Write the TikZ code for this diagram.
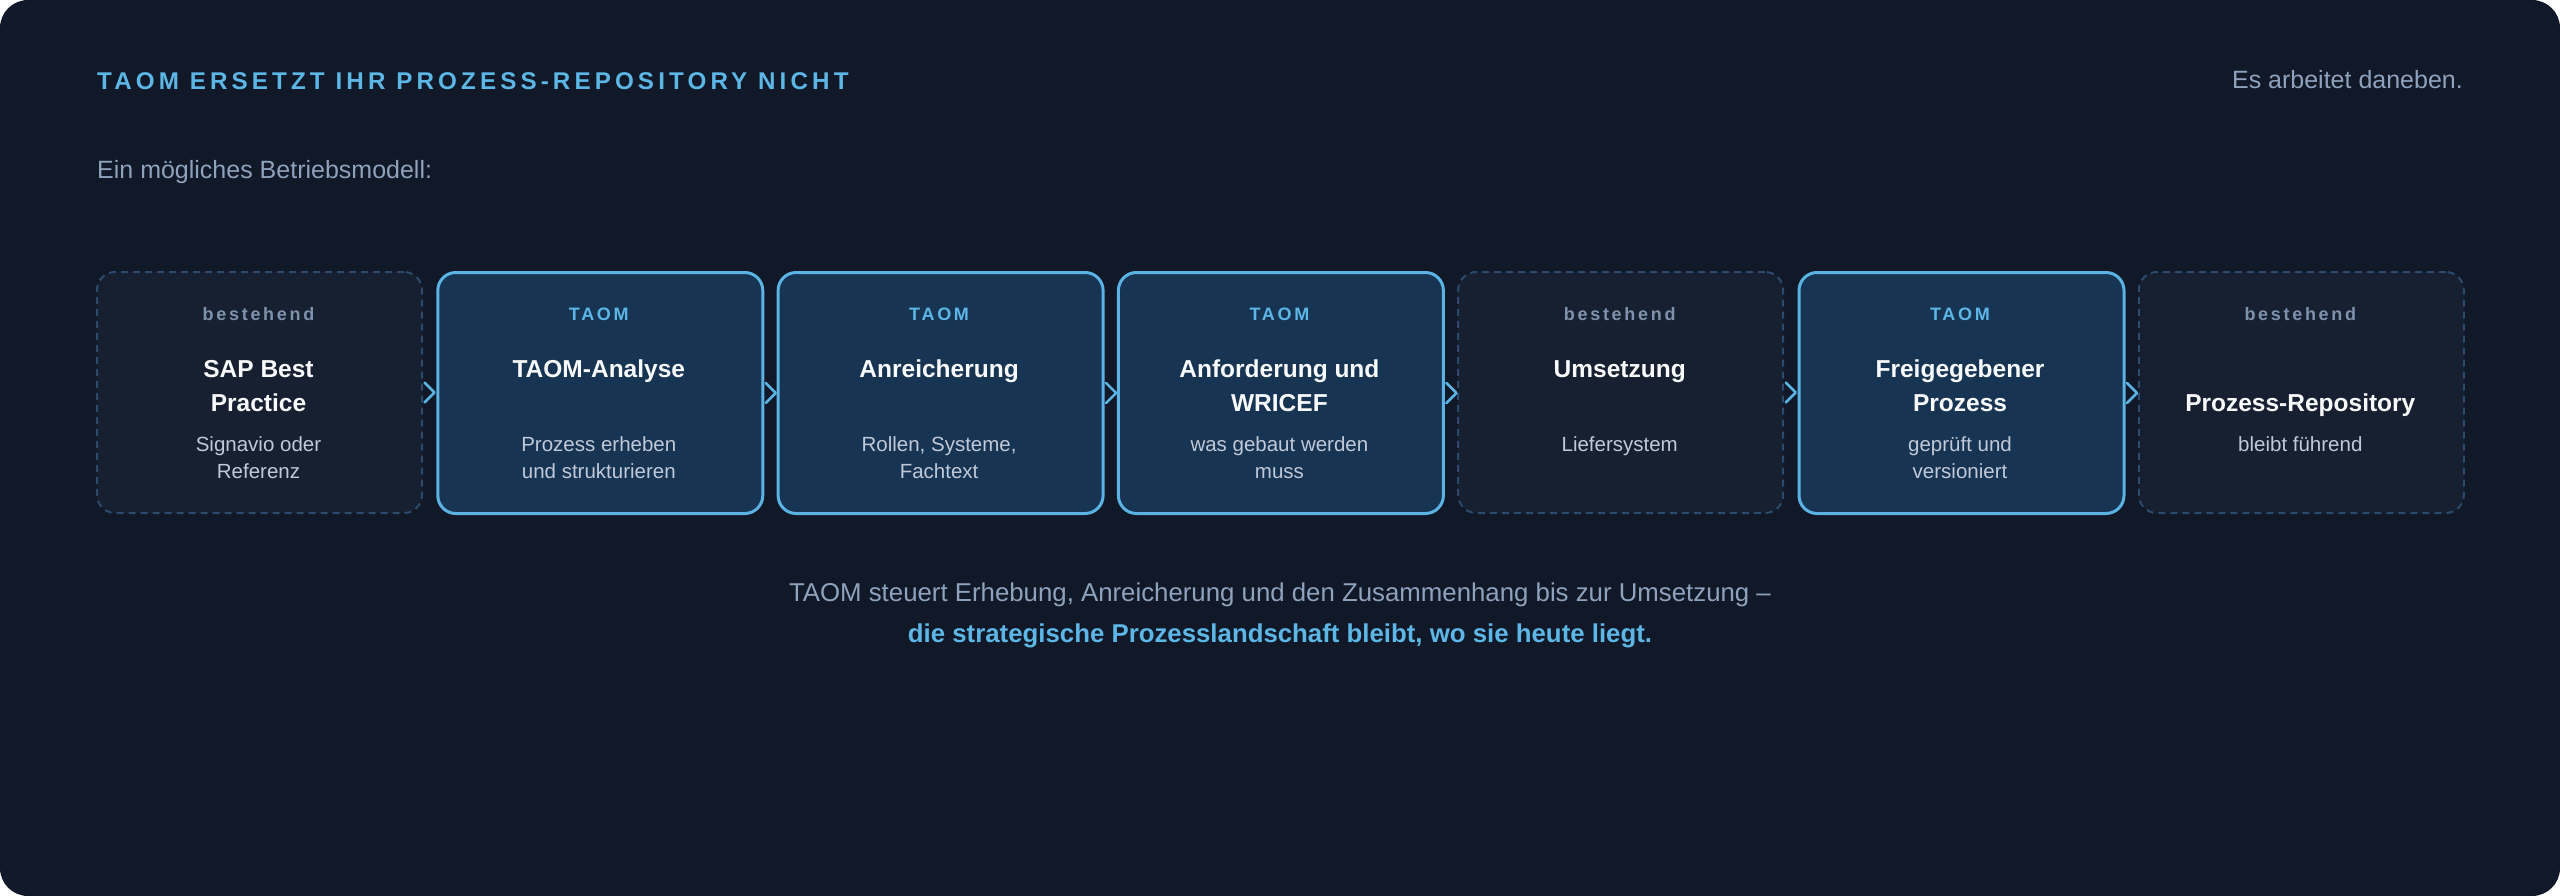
\documentclass[tikz,border=0pt]{standalone}
\usepackage{fontspec}
\setmainfont{Liberation Sans}
\newfontfamily\trackfont[LetterSpace=15]{Liberation Sans}
\newfontfamily\headtrackfont[LetterSpace=17]{Liberation Sans}
\usetikzlibrary{calc}
\definecolor{cardbg}{HTML}{111827}
\definecolor{taomfill}{HTML}{183453}
\definecolor{taomline}{HTML}{5AB3E3}
\definecolor{bestfill}{HTML}{172030}
\definecolor{bestline}{HTML}{2C4A6E}
\definecolor{titlewhite}{HTML}{F8FAFC}
\definecolor{subgray}{HTML}{BFC9D8}
\definecolor{labelgray}{HTML}{7F92AD}
\definecolor{mutedtext}{HTML}{8FA2BD}
\definecolor{headblue}{HTML}{5CB6E6}
\newcommand\pxsize[1]{\fontsize{#1}{#1}\selectfont}
\begin{document}
\begin{tikzpicture}[x=1pt,y=-1pt,
  stepbox/.style={rounded corners=18pt, minimum width=325pt, minimum height=241pt, inner sep=0pt, anchor=north west},
  taombox/.style={stepbox, fill=taomfill, draw=taomline, line width=3pt},
  bestbox/.style={stepbox, fill=bestfill, draw=bestline, line width=2pt, dash pattern=on 7pt off 5pt},
  txt/.style={inner sep=0pt, anchor=base, align=center},
  taomlabel/.style={txt, text=headblue, font=\trackfont\bfseries\pxsize{18}},
  bestlabel/.style={txt, text=labelgray, font=\trackfont\bfseries\pxsize{18}},
  steptitle/.style={txt, text=titlewhite, font=\bfseries\pxsize{24.5}},
  stepsub/.style={txt, text=subgray, font=\pxsize{20.5}},
  chevron/.style={draw=taomline, line width=2.6pt, line cap=round, line join=round}
]
\useasboundingbox (0,0) rectangle (2560,896);
\fill[white] (0,0) rectangle (2560,896);
\fill[cardbg, rounded corners=28pt] (0,0) rectangle (2560,896);

% header
\node[txt, anchor=base west, text=headblue, font=\headtrackfont\bfseries\pxsize{24.2}] (head) at (97,90) {TAOM ERSETZT IHR PROZESS-REPOSITORY NICHT};
\node[txt, anchor=base east, text=mutedtext, font=\pxsize{25}] (side) at (2463,89) {Es arbeitet daneben.};
\node[txt, anchor=base west, text=mutedtext, font=\pxsize{25}] (intro) at (97,179) {Ein mögliches Betriebsmodell:};

% boxes
\node[bestbox] (b1) at (96,271) {};
\node[taombox] (b2) at (436.3,271) {};
\node[taombox] (b3) at (776.6,271) {};
\node[taombox] (b4) at (1116.9,271) {};
\node[bestbox] (b5) at (1457.2,271) {};
\node[taombox] (b6) at (1797.5,271) {};
\node[bestbox] (b7) at (2137.8,271) {};

% box 1
\node[bestlabel] (l1) at (258.5,320) {bestehend};
\node[steptitle] (t1a) at (258.5,377) {SAP Best};
\node[steptitle] (t1b) at (258.5,411) {Practice};
\node[stepsub] (s1a) at (258.5,451) {Signavio oder};
\node[stepsub] (s1b) at (258.5,478) {Referenz};
% box 2
\node[taomlabel] (l2) at (598.8,320) {TAOM};
\node[steptitle] (t2a) at (598.8,377) {TAOM-Analyse};
\node[stepsub] (s2a) at (598.8,451) {Prozess erheben};
\node[stepsub] (s2b) at (598.8,478) {und strukturieren};
% box 3
\node[taomlabel] (l3) at (939.1,320) {TAOM};
\node[steptitle] (t3a) at (939.1,377) {Anreicherung};
\node[stepsub] (s3a) at (939.1,451) {Rollen, Systeme,};
\node[stepsub] (s3b) at (939.1,478) {Fachtext};
% box 4
\node[taomlabel] (l4) at (1279.4,320) {TAOM};
\node[steptitle] (t4a) at (1279.4,377) {Anforderung und};
\node[steptitle] (t4b) at (1279.4,411) {WRICEF};
\node[stepsub] (s4a) at (1279.4,451) {was gebaut werden};
\node[stepsub] (s4b) at (1279.4,478) {muss};
% box 5
\node[bestlabel] (l5) at (1619.7,320) {bestehend};
\node[steptitle] (t5a) at (1619.7,377) {Umsetzung};
\node[stepsub] (s5a) at (1619.7,451) {Liefersystem};
% box 6
\node[taomlabel] (l6) at (1960,320) {TAOM};
\node[steptitle] (t6a) at (1960,377) {Freigegebener};
\node[steptitle] (t6b) at (1960,411) {Prozess};
\node[stepsub] (s6a) at (1960,451) {geprüft und};
\node[stepsub] (s6b) at (1960,478) {versioniert};
% box 7
\node[bestlabel] (l7) at (2300.3,320) {bestehend};
\node[steptitle] (t7b) at (2300.3,411) {Prozess-Repository};
\node[stepsub] (s7a) at (2300.3,451) {bleibt führend};

% chevrons
\foreach \b in {b1,b2,b3,b4,b5,b6}{
  \draw[chevron] ($(\b.east)+(1.5,-10)$) -- ($(\b.east)+(11.5,0)$) -- ($(\b.east)+(1.5,10)$);
}

% footer
\node[txt, text=mutedtext, font=\pxsize{25.8}] (foot1) at (1280,601) {TAOM steuert Erhebung, Anreicherung und den Zusammenhang bis zur Umsetzung –};
\node[txt, text=headblue, font=\bfseries\pxsize{25.8}] (foot2) at (1280,642) {die strategische Prozesslandschaft bleibt, wo sie heute liegt.};
\end{tikzpicture}
\end{document}
